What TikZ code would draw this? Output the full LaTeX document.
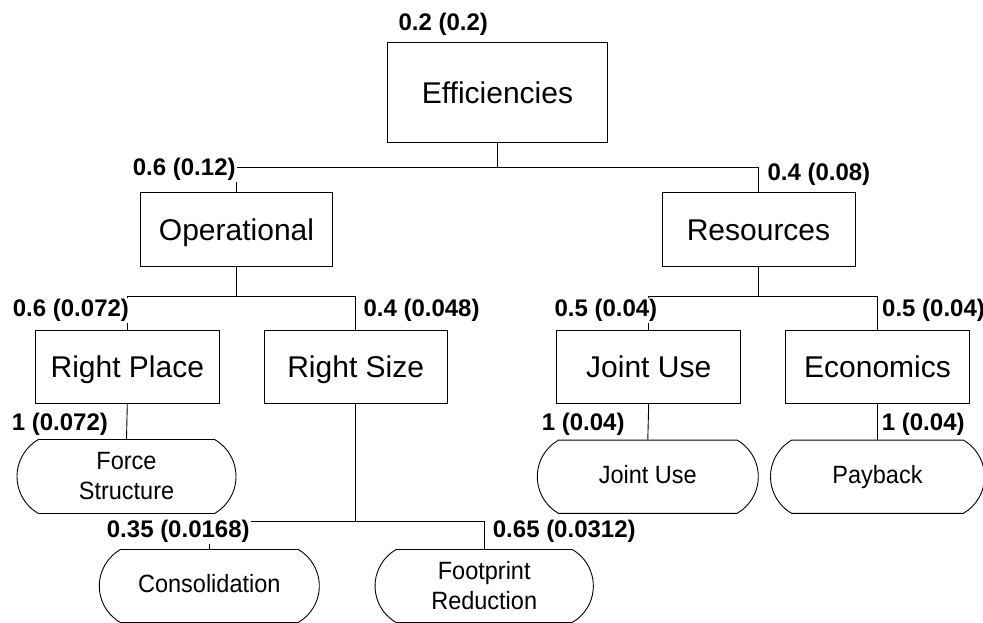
\documentclass[tikz,border=0pt]{standalone}
\usepackage{fontspec}
\setmainfont{Liberation Sans}
\newfontfamily\leaffont[FakeStretch=0.94]{Liberation Sans}
\usetikzlibrary{shapes.misc}

\tikzset{
  box/.style={draw, line width=0.9pt, inner sep=0pt,
    text height=21.5pt, text depth=0pt,
    font=\fontsize{30}{35}\selectfont},
  leaf/.style={draw, line width=0.9pt, rounded rectangle,
    rounded rectangle arc length=120, inner sep=0pt, align=center,
    font=\leaffont\fontsize{25}{30}\selectfont},
  oneline/.style={text height=18pt, text depth=4.5pt},
  weight/.style={fill=white, anchor=base west, inner xsep=1.5pt,
    inner ysep=1.5pt, text height=17pt, text depth=5pt,
    font=\bfseries\fontsize{24}{28}\selectfont},
  link/.style={line width=0.9pt}
}

\begin{document}
\begin{tikzpicture}[x=1pt, y=-1pt]
  \useasboundingbox (0,0) rectangle (983,622);

  % junction levels of the tree
  \coordinate (lv0) at (0,167.3);
  \coordinate (lv1) at (0,296.7);
  \coordinate (lv2) at (0,521.7);

  % criteria boxes
  \node[box, minimum width=220.4pt, minimum height=100.4pt] (eff) at (497.5,92.5) {Efficiencies};
  \node[box, minimum width=192.4pt, minimum height=74pt] (op)  at (236.5,229.3) {Operational};
  \node[box, minimum width=193pt,   minimum height=74pt] (res) at (758.5,229.3) {Resources};
  \node[box, minimum width=183.3pt, minimum height=72.7pt] (rp)  at (127.3,367) {Right Place};
  \node[box, minimum width=183.3pt, minimum height=72.7pt] (rs)  at (355.7,367) {Right Size};
  \node[box, minimum width=184pt,   minimum height=72.7pt] (ju)  at (648.7,367) {Joint Use};
  \node[box, minimum width=183.6pt, minimum height=72.7pt] (eco) at (877.5,367) {Economics};

  % sub-criteria (leaves)
  \node[leaf, minimum width=219pt, minimum height=74pt] (fs)   at (126.5,476.5) {Force\\Structure};
  \node[leaf, oneline, minimum width=221pt, minimum height=73.3pt] (jul) at (647.8,476.7) {Joint Use};
  \node[leaf, oneline, minimum width=214pt, minimum height=73.3pt] (pay) at (877.5,476.7) {Payback};
  \node[leaf, oneline, minimum width=220pt, minimum height=73pt] (cons)  at (209.3,586) {Consolidation};
  \node[leaf, minimum width=218.3pt, minimum height=73pt] (fp)  at (484.2,586) {Footprint\\Reduction};

  % connectors
  \draw[link] (eff.south) -- (eff.south |- lv0);
  \draw[link] (op.north) |- (eff.south |- lv0);
  \draw[link] (res.north) |- (eff.south |- lv0);

  \draw[link] (op.south) -- (op.south |- lv1);
  \draw[link] (rp.north) |- (op.south |- lv1);
  \draw[link] (rs.north) |- (op.south |- lv1);

  \draw[link] (res.south) -- (res.south |- lv1);
  \draw[link] (ju.north) |- (res.south |- lv1);
  \draw[link] (eco.north) |- (res.south |- lv1);

  \draw[link] (rp.south) -- (fs.north);
  \draw[link] (ju.south) -- (jul.north);
  \draw[link] (eco.south) -- (pay.north);

  \draw[link] (rs.south) -- (rs.south |- lv2);
  \draw[link] (cons.north) |- (rs.south |- lv2);
  \draw[link] (fp.north) |- (rs.south |- lv2);

  % local (global) weights
  \node[weight] (w-eff)  at (396.8,30.7)  {0.2 (0.2)};
  \node[weight] (w-op)   at (131.2,175.7) {0.6 (0.12)};
  \node[weight] (w-res)  at (765.8,180)   {0.4 (0.08)};
  \node[weight] (w-rp)   at (11.2,316.7)  {0.6 (0.072)};
  \node[weight] (w-rs)   at (361.8,316.7) {0.4 (0.048)};
  \node[weight] (w-ju)   at (552.8,316.7) {0.5 (0.04)};
  \node[weight] (w-eco)  at (880.5,316.7) {0.5 (0.04)};
  \node[weight] (w-fs)   at (10.2,430.7)  {1 (0.072)};
  \node[weight] (w-jul)  at (540.2,430.7) {1 (0.04)};
  \node[weight] (w-pay)  at (880.2,430.7) {1 (0.04)};
  \node[weight] (w-cons) at (105.2,537.3) {0.35 (0.0168)};
  \node[weight] (w-fp)   at (491.2,537.3) {0.65 (0.0312)};
\end{tikzpicture}
\end{document}
